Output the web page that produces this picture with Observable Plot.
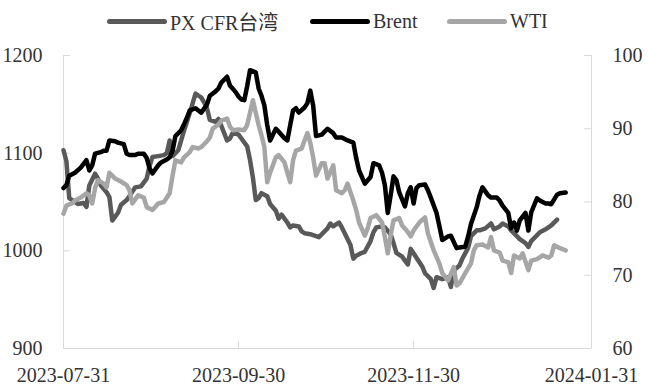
<!DOCTYPE html>
<html><head><meta charset="utf-8">
<script src="https://cdn.jsdelivr.net/npm/d3@7"></script>
<script src="https://cdn.jsdelivr.net/npm/@observablehq/plot@0.6"></script>
<style>
body{margin:0;background:#fff;}
#legend{position:relative;width:649px;height:42px;font-family:'Liberation Serif','Noto Sans CJK SC',serif;font-size:20px;color:#333;}
.item{position:absolute;top:0;height:42px;display:flex;align-items:center;white-space:nowrap;}
.sw{display:inline-block;width:60px;height:5px;border-radius:3px;margin-right:3px;}
</style></head><body>
<div id="legend"></div>
<div id="chart"></div>
<script>
const seriesNames = ["PX CFR台湾", "Brent", "WTI"];
const seriesColors = ["#595959", "#000000", "#a6a6a6"];
const leftTicks = [900, 1000, 1100, 1200];
const rightTicks = [60, 70, 80, 90, 100];
const dateTicks = ["2023-07-31", "2023-09-30", "2023-11-30", "2024-01-31"];

const pxSeries = [["2023-07-31",1103],["2023-08-01",1092],["2023-08-02",1054],["2023-08-04",1050],["2023-08-05",1048],["2023-08-07",1049],["2023-08-08",1045],["2023-08-09",1067],["2023-08-11",1079],["2023-08-12",1074],["2023-08-13",1067],["2023-08-15",1060],["2023-08-16",1055],["2023-08-17",1031],["2023-08-19",1039],["2023-08-20",1047],["2023-08-22",1052],["2023-08-23",1056],["2023-08-25",1065],["2023-08-27",1066],["2023-08-29",1074],["2023-08-30",1087],["2023-08-31",1096],["2023-09-02",1097],["2023-09-04",1098],["2023-09-05",1100],["2023-09-06",1113],["2023-09-07",1097],["2023-09-09",1103],["2023-09-10",1113],["2023-09-11",1123],["2023-09-13",1141],["2023-09-14",1151],["2023-09-15",1161],["2023-09-17",1157],["2023-09-18",1152],["2023-09-19",1146],["2023-09-20",1134],["2023-09-22",1132],["2023-09-23",1135],["2023-09-24",1128],["2023-09-26",1113],["2023-09-27",1115],["2023-09-28",1121],["2023-09-30",1119],["2023-10-01",1115],["2023-10-03",1107],["2023-10-04",1093],["2023-10-05",1075],["2023-10-06",1052],["2023-10-07",1054],["2023-10-08",1059],["2023-10-10",1056],["2023-10-11",1048],["2023-10-13",1041],["2023-10-14",1033],["2023-10-15",1037],["2023-10-17",1029],["2023-10-18",1024],["2023-10-19",1026],["2023-10-21",1025],["2023-10-22",1020],["2023-10-23",1018],["2023-10-25",1017],["2023-10-26",1016],["2023-10-28",1014],["2023-10-29",1017],["2023-10-31",1023],["2023-11-01",1028],["2023-11-02",1025],["2023-11-03",1027],["2023-11-04",1029],["2023-11-05",1024],["2023-11-06",1018],["2023-11-08",1006],["2023-11-09",992],["2023-11-10",995],["2023-11-12",998],["2023-11-13",999],["2023-11-15",1010],["2023-11-16",1019],["2023-11-17",1024],["2023-11-19",1025],["2023-11-20",1024],["2023-11-22",1017],["2023-11-23",1008],["2023-11-24",998],["2023-11-26",994],["2023-11-27",990],["2023-11-28",986],["2023-11-29",1002],["2023-12-01",993],["2023-12-03",984],["2023-12-04",977],["2023-12-06",971],["2023-12-07",962],["2023-12-08",973],["2023-12-10",971],["2023-12-11",972],["2023-12-12",973],["2023-12-13",963],["2023-12-14",980],["2023-12-16",985],["2023-12-17",992],["2023-12-19",1003],["2023-12-20",1015],["2023-12-22",1021],["2023-12-23",1021],["2023-12-25",1023],["2023-12-27",1028],["2023-12-28",1022],["2023-12-30",1025],["2023-12-31",1028],["2024-01-02",1025],["2024-01-03",1021],["2024-01-05",1015],["2024-01-06",1012],["2024-01-08",1008],["2024-01-09",1004],["2024-01-10",1010],["2024-01-12",1016],["2024-01-13",1019],["2024-01-15",1022],["2024-01-16",1024],["2024-01-17",1026],["2024-01-19",1032]];

const brentSeries = [["2023-07-31",81.9],["2023-08-01",82.3],["2023-08-02",83.6],["2023-08-04",84.0],["2023-08-06",84.7],["2023-08-08",85.7],["2023-08-09",84.3],["2023-08-10",85.0],["2023-08-11",86.6],["2023-08-13",86.8],["2023-08-14",87.0],["2023-08-15",87.0],["2023-08-16",88.4],["2023-08-18",88.3],["2023-08-19",88.1],["2023-08-21",87.9],["2023-08-22",86.6],["2023-08-23",86.4],["2023-08-25",86.4],["2023-08-26",86.6],["2023-08-28",86.6],["2023-08-29",86.0],["2023-08-30",84.6],["2023-08-31",83.9],["2023-09-02",85.0],["2023-09-03",85.4],["2023-09-05",85.8],["2023-09-06",86.1],["2023-09-07",87.0],["2023-09-08",89.0],["2023-09-10",89.8],["2023-09-11",90.6],["2023-09-12",91.5],["2023-09-13",92.5],["2023-09-15",92.8],["2023-09-16",92.5],["2023-09-17",92.2],["2023-09-19",93.3],["2023-09-20",94.5],["2023-09-22",95.1],["2023-09-23",95.5],["2023-09-24",96.3],["2023-09-26",97.1],["2023-09-27",95.9],["2023-09-29",95.0],["2023-09-30",94.4],["2023-10-01",94.0],["2023-10-02",93.9],["2023-10-03",95.8],["2023-10-04",98.0],["2023-10-06",97.7],["2023-10-07",95.5],["2023-10-08",94.5],["2023-10-09",93.2],["2023-10-10",90.5],["2023-10-11",88.4],["2023-10-13",90.0],["2023-10-14",89.6],["2023-10-16",88.7],["2023-10-17",88.4],["2023-10-18",90.5],["2023-10-19",92.5],["2023-10-20",92.8],["2023-10-21",92.2],["2023-10-23",92.9],["2023-10-24",93.5],["2023-10-25",95.2],["2023-10-26",93.2],["2023-10-27",89.0],["2023-10-29",89.2],["2023-10-30",89.6],["2023-10-31",90.0],["2023-11-02",89.4],["2023-11-03",88.8],["2023-11-05",88.8],["2023-11-07",88.4],["2023-11-09",88.1],["2023-11-10",86.0],["2023-11-11",84.3],["2023-11-13",82.5],["2023-11-15",83.4],["2023-11-16",85.3],["2023-11-18",85.0],["2023-11-19",84.0],["2023-11-20",82.3],["2023-11-21",78.5],["2023-11-22",80.9],["2023-11-23",83.5],["2023-11-24",83.0],["2023-11-25",81.3],["2023-11-27",79.4],["2023-11-28",81.2],["2023-11-29",82.0],["2023-11-30",79.8],["2023-12-01",81.9],["2023-12-02",82.3],["2023-12-04",82.4],["2023-12-05",81.6],["2023-12-06",80.6],["2023-12-08",78.5],["2023-12-09",76.7],["2023-12-10",74.8],["2023-12-12",75.3],["2023-12-13",75.4],["2023-12-15",73.7],["2023-12-16",73.8],["2023-12-18",73.9],["2023-12-19",75.3],["2023-12-20",77.0],["2023-12-22",79.3],["2023-12-23",80.9],["2023-12-24",82.0],["2023-12-26",80.9],["2023-12-27",80.6],["2023-12-29",80.6],["2023-12-30",80.2],["2023-12-31",79.5],["2024-01-02",78.5],["2024-01-03",76.4],["2024-01-04",77.2],["2024-01-05",76.1],["2024-01-06",77.5],["2024-01-08",78.5],["2024-01-09",76.1],["2024-01-10",78.6],["2024-01-12",80.5],["2024-01-13",80.2],["2024-01-15",79.8],["2024-01-16",79.8],["2024-01-17",79.7],["2024-01-19",81.0],["2024-01-20",81.2],["2024-01-22",81.3]];

const wtiSeries = [["2023-07-31",78.4],["2023-08-01",79.5],["2023-08-03",79.8],["2023-08-04",80.2],["2023-08-06",80.6],["2023-08-08",81.2],["2023-08-09",80.9],["2023-08-10",79.8],["2023-08-11",81.9],["2023-08-12",83.0],["2023-08-14",82.5],["2023-08-15",82.0],["2023-08-16",84.0],["2023-08-18",83.2],["2023-08-20",82.8],["2023-08-22",82.3],["2023-08-23",81.6],["2023-08-24",79.8],["2023-08-26",80.9],["2023-08-28",80.6],["2023-08-29",79.3],["2023-08-31",78.9],["2023-09-02",79.8],["2023-09-04",80.0],["2023-09-06",81.2],["2023-09-07",83.6],["2023-09-08",85.7],["2023-09-10",85.4],["2023-09-11",86.1],["2023-09-13",86.8],["2023-09-14",87.5],["2023-09-16",87.3],["2023-09-17",87.5],["2023-09-19",88.3],["2023-09-20",88.8],["2023-09-21",90.0],["2023-09-23",90.6],["2023-09-24",91.1],["2023-09-26",91.4],["2023-09-27",90.3],["2023-09-28",89.8],["2023-09-30",89.9],["2023-10-02",89.8],["2023-10-03",90.5],["2023-10-04",92.2],["2023-10-05",93.9],["2023-10-06",92.2],["2023-10-07",90.5],["2023-10-08",89.1],["2023-10-09",87.5],["2023-10-10",82.7],["2023-10-11",84.0],["2023-10-13",86.1],["2023-10-14",86.4],["2023-10-16",85.4],["2023-10-17",84.0],["2023-10-18",82.7],["2023-10-19",85.7],["2023-10-20",87.0],["2023-10-22",87.3],["2023-10-23",88.4],["2023-10-24",89.4],["2023-10-25",88.1],["2023-10-26",86.1],["2023-10-27",83.6],["2023-10-29",85.3],["2023-10-30",85.3],["2023-10-31",83.2],["2023-11-02",85.0],["2023-11-03",81.6],["2023-11-05",81.2],["2023-11-06",81.6],["2023-11-07",82.5],["2023-11-09",80.2],["2023-11-10",78.9],["2023-11-11",77.2],["2023-11-13",75.4],["2023-11-14",76.4],["2023-11-15",77.8],["2023-11-17",78.2],["2023-11-19",77.2],["2023-11-20",75.2],["2023-11-21",73.0],["2023-11-22",75.4],["2023-11-23",77.5],["2023-11-25",77.8],["2023-11-26",76.8],["2023-11-28",75.9],["2023-11-29",75.3],["2023-11-30",76.1],["2023-12-02",77.2],["2023-12-04",77.9],["2023-12-05",75.7],["2023-12-07",73.4],["2023-12-09",71.6],["2023-12-10",70.3],["2023-12-12",69.3],["2023-12-14",71.1],["2023-12-15",68.6],["2023-12-16",68.9],["2023-12-18",70.3],["2023-12-20",71.6],["2023-12-21",73.4],["2023-12-22",74.1],["2023-12-24",74.2],["2023-12-26",73.8],["2023-12-27",75.2],["2023-12-28",73.4],["2023-12-30",73.1],["2023-12-31",72.0],["2024-01-02",71.8],["2024-01-03",70.3],["2024-01-04",72.7],["2024-01-06",72.3],["2024-01-07",73.0],["2024-01-09",70.7],["2024-01-10",72.0],["2024-01-12",72.2],["2024-01-14",72.7],["2024-01-16",72.4],["2024-01-17",72.7],["2024-01-18",74.1],["2024-01-20",73.7],["2024-01-22",73.4]];

// Legend (HTML, above the SVG)
const legendLeft = [107, 310, 447];
const legend = document.getElementById("legend");
seriesNames.forEach((name, i) => {
  const item = document.createElement("div");
  item.className = "item";
  item.style.left = legendLeft[i] + "px";
  const sw = document.createElement("span");
  sw.className = "sw";
  sw.style.background = seriesColors[i];
  item.appendChild(sw);
  item.appendChild(document.createTextNode(name));
  legend.appendChild(item);
});

const parse = d3.utcParse("%Y-%m-%d");
const rows = arr => arr.map(([d, v]) => ({date: parse(d), value: v}));
// right axis (60–100) mapped onto left scale (900–1200)
const toLeft = v => 900 + (v - 60) * 7.5;
const fromLeft = y => (y - 900) / 7.5 + 60;

const W = 649, H = 347, mT = 13, mB = 41, mL = 63, mR = 58;
const frameW = W - mL - mR, frameH = H - mT - mB;
const axisColor = "#d9d9d9";
const xDomain = [parse(dateTicks[0]), parse(dateTicks[dateTicks.length - 1])];

const chart = Plot.plot({
  width: W, height: H,
  marginTop: mT, marginBottom: mB, marginLeft: mL, marginRight: mR,
  style: {fontFamily: "'Liberation Serif','Times New Roman',serif", fontSize: "20px", color: "#333", background: "#fff"},
  x: {type: "utc", domain: xDomain},
  y: {domain: [leftTicks[0], leftTicks[leftTicks.length - 1]]},
  marks: [
    Plot.ruleY([leftTicks[0]], {stroke: axisColor}),
    Plot.ruleX(xDomain, {stroke: axisColor}),
    Plot.tickY(leftTicks, {y: d => d, stroke: axisColor, insetRight: frameW - 7}),
    Plot.tickY(rightTicks.map(toLeft), {y: d => d, stroke: axisColor, insetLeft: frameW - 7}),
    Plot.tickX(dateTicks.map(parse), {x: d => d, stroke: axisColor, insetTop: frameH - 7}),
    Plot.axisY(leftTicks, {anchor: "left", tickSize: 0, tickPadding: 21, label: null, tickFormat: d => String(d)}),
    Plot.axisY(rightTicks.map(toLeft), {anchor: "right", tickSize: 0, tickPadding: 21, label: null, tickFormat: d => String(Math.round(fromLeft(d)))}),
    Plot.axisX(dateTicks.map(parse), {anchor: "bottom", tickSize: 0, tickPadding: 19, label: null, tickFormat: d3.utcFormat("%Y-%m-%d")}),
    Plot.line(rows(pxSeries), {x: "date", y: "value", stroke: seriesColors[0], strokeWidth: 4.5, strokeLinejoin: "round", strokeLinecap: "round"}),
    Plot.line(rows(brentSeries), {x: "date", y: d => toLeft(d.value), stroke: seriesColors[1], strokeWidth: 4.5, strokeLinejoin: "round", strokeLinecap: "round"}),
    Plot.line(rows(wtiSeries), {x: "date", y: d => toLeft(d.value), stroke: seriesColors[2], strokeWidth: 4.5, strokeLinejoin: "round", strokeLinecap: "round"})
  ]
});
document.getElementById("chart").appendChild(chart);
</script>
</body></html>
